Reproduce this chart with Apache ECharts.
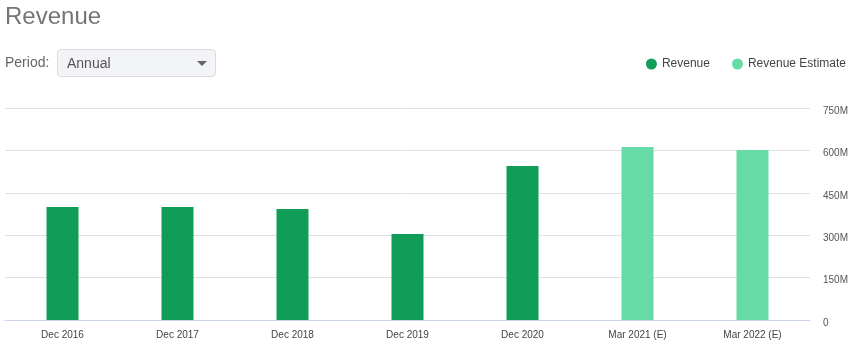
<!DOCTYPE html>
<html><head><meta charset="utf-8">
<script src="https://cdn.jsdelivr.net/npm/echarts@6/dist/echarts.min.js"></script>
<style>
html,body{margin:0;padding:0;background:#fff;font-family:Arial,"Liberation Sans",sans-serif;}
#wrap{position:relative;width:863px;height:355px;overflow:hidden;}
#chart{position:absolute;left:0;top:0;width:863px;height:355px;}
#title{position:absolute;left:5px;top:2px;font-size:24px;color:#757575;}
#plabel{position:absolute;left:5px;top:54px;font-size:14px;color:#666;}
#sel{position:absolute;left:57px;top:49px;width:157px;height:26px;background:#f3f4f7;border:1px solid #d9dbe0;border-radius:4px;}
#sel span{position:absolute;left:9px;top:5px;font-size:14px;color:#555;}
#sel i{position:absolute;right:8px;top:11px;width:0;height:0;border-left:5px solid transparent;border-right:5px solid transparent;border-top:5px solid #666;}
</style></head>
<body><div id="wrap">
<div id="chart"></div>
<div id="title">Revenue</div>
<div id="plabel">Period:</div>
<div id="sel"><span>Annual</span><i></i></div>
</div>
<script>
const categories = ["Dec 2016","Dec 2017","Dec 2018","Dec 2019","Dec 2020","Mar 2021 (E)","Mar 2022 (E)"];
const revenue = [400, 400, 393, 304, 545, null, null];
const revenueEstimate = [null, null, null, null, null, 612, 601];
const yTicks = [0, 150, 300, 450, 600, 750];

const chart = echarts.init(document.getElementById('chart'));
chart.setOption({
  animation:false,
  legend:{
    right:12, top:53, itemWidth:11, itemHeight:11, itemGap:22, icon:'circle',
    textStyle:{fontSize:12,color:'#444',fontFamily:'Arial, Liberation Sans, sans-serif'},
    data:['Revenue','Revenue Estimate']
  },
  grid:{left:5,right:53,top:108,bottom:35},
  xAxis:{
    type:'category', data:categories,
    axisLine:{lineStyle:{color:'#ccd6eb'}},
    axisTick:{show:false},
    axisLabel:{fontSize:10,color:'#444',margin:10,fontFamily:'Arial, Liberation Sans, sans-serif'}
  },
  yAxis:{
    type:'value', position:'right', min:yTicks[0], max:yTicks[yTicks.length-1], interval:150,
    axisLine:{show:false}, axisTick:{show:false},
    splitLine:{lineStyle:{color:'#e0e0e0'}},
    axisLabel:{fontSize:10,color:'#555',margin:13,verticalAlign:'top',lineHeight:6,fontFamily:'Arial, Liberation Sans, sans-serif',
      formatter:v=>v===0?'0':v+'M'}
  },
  series:[
    {name:'Revenue',type:'bar',stack:'a',data:revenue,barWidth:32,itemStyle:{color:'#119d58'}},
    {name:'Revenue Estimate',type:'bar',stack:'a',data:revenueEstimate,barWidth:32,itemStyle:{color:'#66dba5'}}
  ]
});
</script>
</body></html>
